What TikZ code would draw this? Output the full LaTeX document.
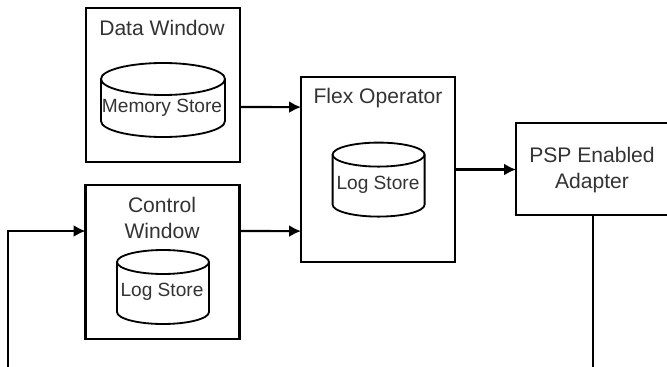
\documentclass[tikz,border=0pt]{standalone}
\usepackage{fontspec}
\setmainfont{Liberation Sans}
\usetikzlibrary{arrows.meta}
\tikzset{
    winbox/.style={draw, line width=1.5pt, outer sep=0pt, minimum width=3.85cm, minimum height=3.85cm},
    wintext/.style={font=\fontsize{15}{18.5}\selectfont, text=black!80, align=center, inner sep=0pt},
    storetext/.style={font=\fontsize{13.6}{16}\selectfont, text=black!80, inner sep=0pt},
    flow/.style={line width=1.5pt, -{Latex[length=8.5pt,width=8.5pt]}},
    pics/store/.style 2 args={code={
        \draw[line width=1.3pt] (0,{0.925-#2}) ellipse [x radius=#1, y radius=#2];
        \draw[line width=1.3pt] (-#1,{0.925-#2}) -- (-#1,{-0.925+#2})
            arc [start angle=180, end angle=360, x radius=#1, y radius=#2] -- (#1,{0.925-#2});
    }},
}
\begin{document}
\begin{tikzpicture}

        \useasboundingbox (0,0) rectangle (16.675,-9.175);

        % Windows and operator
        \node[winbox] (datawin) at (4.075,-2.125) {};
        \node[winbox] (ctrlwin) at (4.0625,-6.55) {};
        \node[winbox, minimum height=4.625cm] (flexop) at (9.45,-4.2375) {};
        \node[winbox, minimum height=2.3cm] (pspbox) at (14.825,-4.225) {};

        % Titles
        \node[wintext] (datatitle) at (4.05,-0.7) {Data Window};
        \node[wintext] (ctrltitle) at (4.05,-5.45) {Control\\Window};
        \node[wintext] (flextitle) at (9.45,-2.45) {Flex Operator};
        \node[wintext] (psptitle) at (14.8,-4.25) {PSP Enabled\\Adapter};

        % Stores
        \pic at (4.075,-2.5) {store={1.55}{0.4}};
        \pic at (4.075,-7.175) {store={1.15}{0.3}};
        \pic at (9.465,-4.49) {store={1.15}{0.3}};
        \node[storetext] (memtext) at (4.05,-2.7) {Memory Store};
        \node[storetext] (ctrltext) at (4.05,-7.3) {Log Store};
        \node[storetext] (flextext) at (9.45,-4.62) {Log Store};

        % Free line ends
        \coordinate (feedin) at (0.2,-9.3);
        \coordinate (pspout) at (14.825,-9.3);

        % Connectors
        \draw[flow] ([yshift=-0.55cm]datawin.east) -- ([yshift=1.56cm]flexop.west);
        \draw[flow] ([yshift=0.775cm]ctrlwin.east) -- ([yshift=-1.54cm]flexop.west);
        \draw[flow] (flexop.east) -- (flexop.east -| pspbox.west);
        \draw[flow] (feedin) |- ([yshift=0.775cm]ctrlwin.west);
        \draw[line width=1.5pt] (pspbox.south) -- (pspout);

    \end{tikzpicture}
\end{document}
